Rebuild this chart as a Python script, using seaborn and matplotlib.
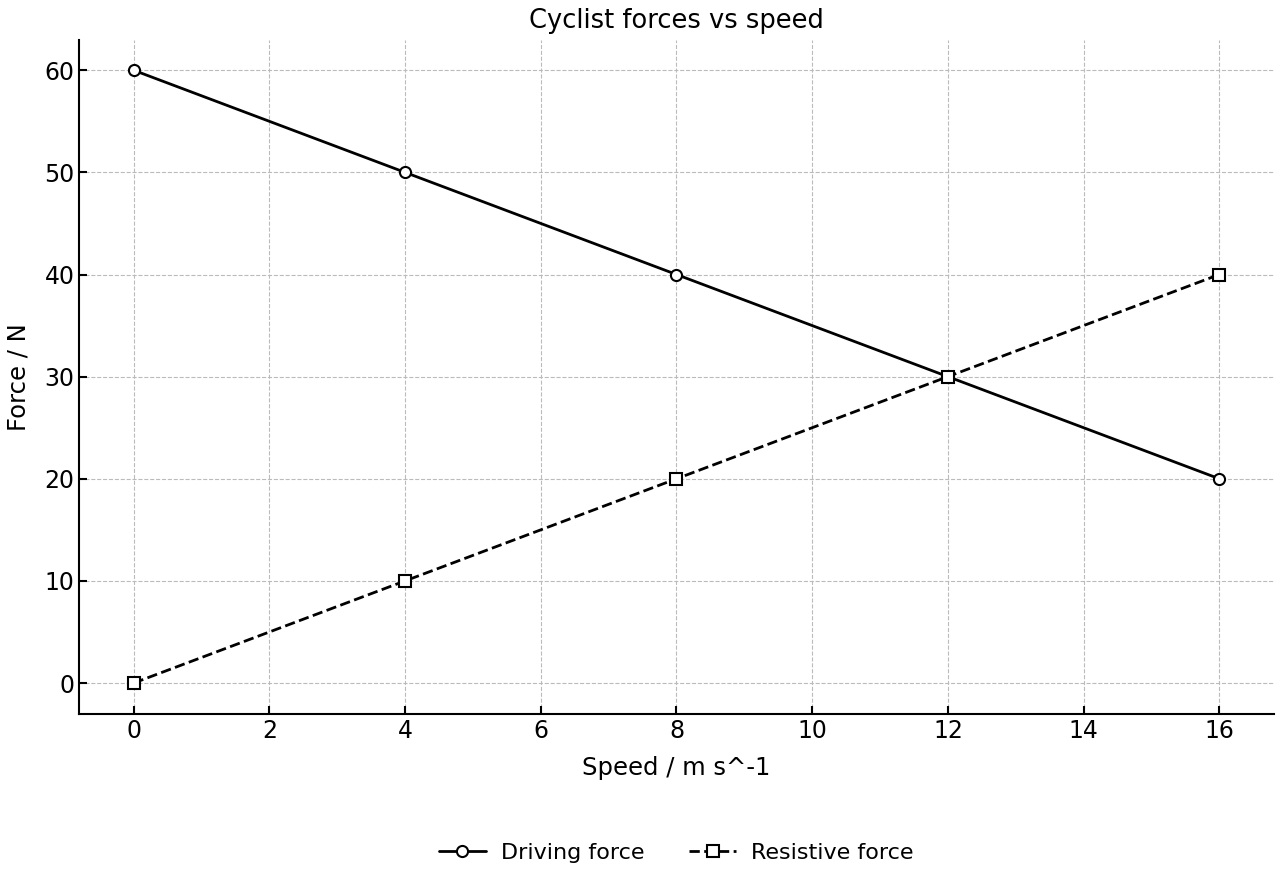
import matplotlib
matplotlib.use("Agg")
import matplotlib.pyplot as plt
import seaborn as sns
import pandas as pd

speed = [0, 4, 8, 12, 16]
driving_force = [60, 50, 40, 30, 20]
resistive_force = [0, 10, 20, 30, 40]

df = pd.DataFrame({
    "speed": speed,
    "driving": driving_force,
    "resistive": resistive_force,
})

sns.set_style("ticks")
plt.rcParams["font.family"] = ["DejaVu Sans"]
plt.rcParams["text.color"] = "black"
plt.rcParams["axes.labelcolor"] = "black"
plt.rcParams["xtick.color"] = "black"
plt.rcParams["ytick.color"] = "black"
plt.rcParams["axes.edgecolor"] = "black"

fig, ax = plt.subplots(figsize=(12.8, 8.8), dpi=100)

sns.lineplot(
    data=df, x="speed", y="driving", ax=ax,
    color="black", linewidth=2, marker="o", markersize=8,
    markerfacecolor="white", markeredgecolor="black", markeredgewidth=1.5,
    label="Driving force"
)
sns.lineplot(
    data=df, x="speed", y="resistive", ax=ax,
    color="black", linewidth=2, linestyle="--", marker="s", markersize=8,
    markerfacecolor="white", markeredgecolor="black", markeredgewidth=1.5,
    label="Resistive force"
)

ax.set_title("Cyclist forces vs speed", fontsize=18.5, pad=8)
ax.set_xlabel("Speed / m s^-1", fontsize=17.5, labelpad=10)
ax.set_ylabel("Force / N", fontsize=17.5, labelpad=10)
ax.set_xticks(range(0, 17, 2))
ax.set_yticks(range(0, 61, 10))
ax.tick_params(direction="in", labelsize=17, width=1.5, length=6)
ax.grid(True, linestyle="--", color="#bbbbbb", linewidth=0.8)
for s in ["left", "bottom"]:
    ax.spines[s].set_linewidth(1.5)
sns.despine(ax=ax)

ax.get_legend().remove()
handles, labels = ax.get_legend_handles_labels()
ax.legend(handles, labels, loc="center", ncol=2, frameon=False,
          fontsize=16, bbox_to_anchor=(0.5, -0.206), columnspacing=2.0,
          handlelength=2.1, handletextpad=0.7)

fig.subplots_adjust(left=0.062, right=0.995, top=0.955, bottom=0.189)
fig.savefig("out.png", dpi=100)
